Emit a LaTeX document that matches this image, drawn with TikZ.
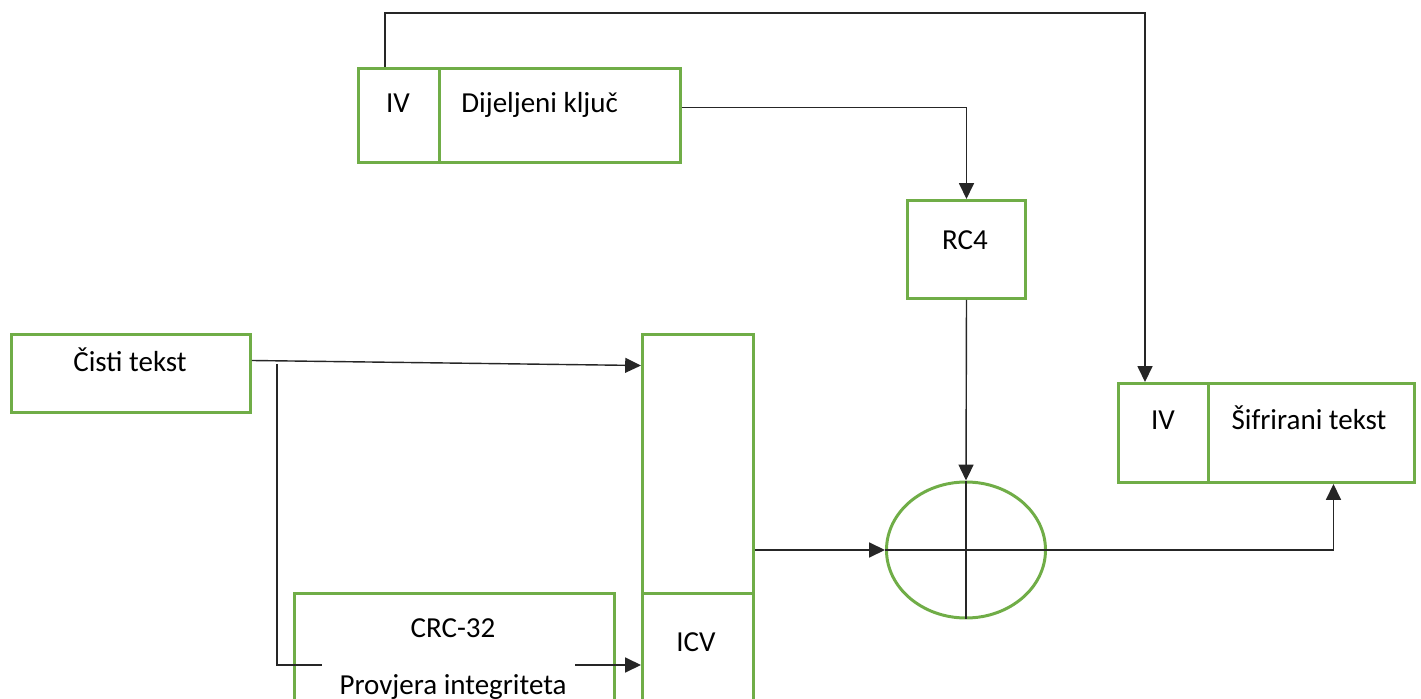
\documentclass[tikz,border=0pt]{standalone}
\usepackage{fontspec}
\setmainfont{Carlito}
\usetikzlibrary{arrows.meta,shapes.geometric}
\newlength\px
\setlength\px{0.02cm}
\definecolor{boxgreen}{RGB}{112,173,71}
\tikzset{
  box/.style={draw=boxgreen,line width=1.7pt,anchor=north west,inner sep=0pt},
  lbl/.style={inner sep=0pt,anchor=base,font=\fontsize{16.5}{19.5}\selectfont},
  conn/.style={draw=black!85,line width=0.8pt,-{Triangle[length=9pt,width=8.5pt]}},
  wire/.style={draw=black!85,line width=0.8pt}
}
\begin{document}
\begin{tikzpicture}[x=0.02cm,y=-0.02cm]
  \useasboundingbox (0,0) rectangle (1421,699);
  \clip (0,0) rectangle (1421,699);
  % boxes (pixel grid, y downwards)
  \node[box,minimum width=81\px,minimum height=94\px] (iv1) at (357,67) {};
  \node[box,minimum width=241\px,minimum height=94\px] (key) at (438,67) {};
  \node[box,minimum width=118\px,minimum height=98\px] (rc4) at (906,199) {};
  \node[box,minimum width=239\px,minimum height=78\px] (plain) at (10,333) {};
  \node[box,minimum width=111\px,minimum height=259\px] (data) at (641,333) {};
  \node[box,minimum width=111\px,minimum height=150\px] (icv) at (641,592) {};
  \node[box,minimum width=320\px,minimum height=150\px] (crc) at (293,592) {};
  \node[box,minimum width=90\px,minimum height=99\px] (iv2) at (1117,382) {};
  \node[box,minimum width=206\px,minimum height=99\px] (cipher) at (1207,382) {};
  \node[draw=boxgreen,line width=1.7pt,ellipse,inner sep=0pt,
        minimum width=159\px,minimum height=136\px] (xor) at (966,550) {};
  % texts
  \node[lbl] (ivtxt) at (398,113) {IV};
  \node[lbl,anchor=base west] (keytxt) at (461,113) {Dijeljeni ključ};
  \node[lbl] (rctxt) at (965,250) {RC4};
  \node[lbl] (plaintxt) at (130,372) {Čisti tekst};
  \node[lbl] (ivtxtb) at (1163,430) {IV};
  \node[lbl] (ciphertxt) at (1309,430) {Šifrirani tekst};
  \node[lbl] (crctxt) at (453,637) {CRC-32};
  \node[lbl] (checktxt) at (453,694) {Provjera integriteta};
  \node[lbl] (icvtxt) at (696,651) {ICV};
  % connectors
  \coordinate (ivup) at (385,13);
  \coordinate (ivdn) at (1145,13);
  \draw[conn] (iv1.north -| ivup) -- (ivup) -- (ivdn) -- (iv2.north -| ivdn);
  \draw[conn] ([yshift=0.16cm]key.east) -| (rc4.north);
  \draw[conn] (rc4.south) -- (xor.north);
  \draw[conn] ([yshift=0.26cm]plain.east) -- ([yshift=1.97cm]data.west);
  \coordinate (tap) at (277,364);
  \coordinate (crcin) at (322,665);
  \coordinate (crcout) at (575,665);
  \draw[wire] (tap) |- (crcin);
  \draw[conn] (crcout) -- (icv.west |- crcout);
  \draw[conn] (data.east |- xor.west) -- (xor.west);
  \draw[conn] (xor.east) -| ([xshift=0.44cm]cipher.south);
  \draw[wire] (xor.north) -- (xor.south);
  \draw[wire] (xor.west) -- (xor.east);
\end{tikzpicture}
\end{document}
